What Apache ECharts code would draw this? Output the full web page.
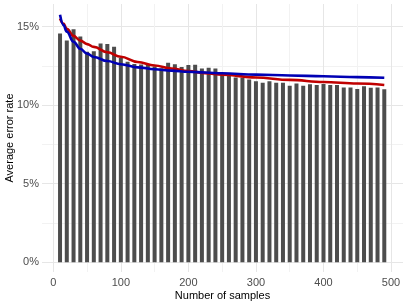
<!DOCTYPE html>
<html>
<head>
<meta charset="utf-8">
<script src="https://cdn.jsdelivr.net/npm/echarts@6/dist/echarts.min.js"></script>
<style>
html,body{margin:0;padding:0;background:#fff;}
#chart{width:407px;height:305px;}
</style>
</head>
<body>
<div id="chart"></div>
<script>
// Bars: number of samples and average error rate (%)
const barSamples = [10,20,30,40,50,60,70,80,90,100,110,120,130,140,150,160,170,180,190,200,210,220,230,240,250,260,270,280,290,300,310,320,330,340,350,360,370,380,390,400,410,420,430,440,450,460,470,480,490];
const barRates = [14.56,14.11,14.83,14.37,13.40,13.43,13.92,13.88,13.71,13.00,12.76,12.62,12.58,12.55,12.45,12.35,12.69,12.59,12.42,12.55,12.57,12.33,12.38,12.33,11.91,11.85,11.76,11.74,11.63,11.51,11.42,11.51,11.42,11.42,11.23,11.38,11.23,11.32,11.27,11.34,11.27,11.27,11.12,11.12,11.02,11.19,11.10,11.12,11.00];

// Fitted curves
const curveSamples = [10,15,20,30,40,50,60,80,100,125,150,175,200,225,250,300,350,400,450,490];
const redCurve  = [15.50,15.18,14.85,14.40,14.10,13.88,13.70,13.36,13.07,12.74,12.52,12.33,12.16,12.03,11.93,11.75,11.60,11.47,11.37,11.28];
const blueCurve = [15.75,15.10,14.67,14.03,13.58,13.27,13.06,12.80,12.60,12.40,12.28,12.19,12.12,12.07,12.02,11.94,11.88,11.83,11.78,11.74];

// Tick labels
const xMajorTicks = [0,100,200,300,400,500];
const xAllTicks = [0,50,100,150,200,250,300,350,400,450,500];
const yMajorTicks = [0,5,10,15];
const yAllTicks = [0,2.5,5,7.5,10,12.5,15];

const font = 'Liberation Sans, Arial, sans-serif';
const chart = echarts.init(document.getElementById('chart'), null, {renderer:'canvas'});
chart.setOption({
  animation:false,
  backgroundColor:'#ffffff',
  grid:{left:42,right:4,top:4,bottom:33,containLabel:false,outerBoundsMode:'none'},
  xAxis:{
    type:'value', min:-16.7, max:517.7,
    name:'Number of samples', nameLocation:'middle', nameGap:18, nameMoveOverlap:false,
    nameTextStyle:{color:'#000', fontSize:11, fontFamily:font},
    axisLine:{show:false}, axisTick:{show:false, customValues:xAllTicks},
    axisLabel:{customValues:xMajorTicks, color:'#4d4d4d', fontSize:11, fontFamily:font, margin:5},
    splitLine:{show:true, lineStyle:{color:['#e6e6e6','#f2f2f2'], width:1}}
  },
  yAxis:{
    type:'value', min:-0.62, max:16.43,
    name:'Average error rate', nameLocation:'middle', nameGap:27, nameMoveOverlap:false,
    nameTextStyle:{color:'#000', fontSize:11, fontFamily:font},
    axisLine:{show:false}, axisTick:{show:false, customValues:yAllTicks},
    axisLabel:{customValues:yMajorTicks, color:'#4d4d4d', fontSize:11, fontFamily:font, margin:3, formatter:'{value}%'},
    splitLine:{show:true, lineStyle:{color:['#e6e6e6','#f2f2f2'], width:1}}
  },
  series:[
    {type:'bar', data:barSamples.map((x,i)=>[x,barRates[i]]), barWidth:4, itemStyle:{color:'#4d4d4d'}, silent:true},
    {type:'line', data:curveSamples.map((x,i)=>[x,redCurve[i]]), smooth:0.4, smoothMonotone:'x', showSymbol:false, lineStyle:{color:'#c00000', width:2.6}, clip:false},
    {type:'line', data:curveSamples.map((x,i)=>[x,blueCurve[i]]), smooth:0.4, smoothMonotone:'x', showSymbol:false, lineStyle:{color:'#0000b4', width:2.6}, clip:false}
  ]
});
</script>
</body>
</html>
